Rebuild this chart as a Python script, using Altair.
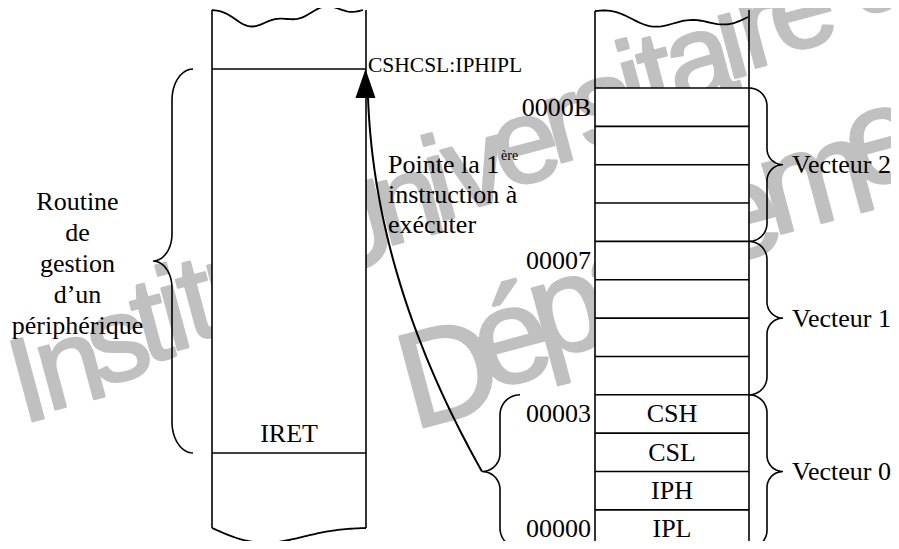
import math
import altair as alt
import pandas as pd

# ---------------- data ----------------
routine_lines = ["Routine", "de", "gestion", "d’un", "périphérique"]
routine_end = "IRET"
target_address = "CSHCSL:IPHIPL"
note_lines = ["Pointe la 1", "instruction à", "exécuter"]
note_sup = "ère"
cell_addresses = [11, 10, 9, 8, 7, 6, 5, 4, 3, 2, 1, 0]          # top to bottom
address_labels = ["0000B", "", "", "", "00007", "", "", "", "00003", "", "", "00000"]
cell_contents = ["", "", "", "", "", "", "", "", "CSH", "CSL", "IPH", "IPL"]
vector_names = ["Vecteur 2", "Vecteur 1", "Vecteur 0"]
watermark_lines = ["Institut Universitaire de", "Département"]

# ---------------- layout constants (page pixels) ----------------
X_MIN, X_MAX = 8, 891
Y_MIN, Y_MAX = 8, 541
W, H = X_MAX - X_MIN, Y_MAX - Y_MIN
LX0, LX1 = 212, 366
L_TOP, L_BOT, L_END_TOP, L_END_BOT = 69, 453, 10, 528
RX0, RX1 = 595, 749
R_TOP, R_BOTTOM = 11, 552
ROW0, ROW_H = 88, 38.35
SERIF = "Liberation Serif"
FS = 26

xs = alt.Scale(domain=[X_MIN, X_MAX], nice=False, zero=False)
ys = alt.Scale(domain=[Y_MIN, Y_MAX], nice=False, zero=False, reverse=True)


def X(f="x"):
    return alt.X(f"{f}:Q", scale=xs, axis=None)


def Y(f="y"):
    return alt.Y(f"{f}:Q", scale=ys, axis=None)


# ---------------- watermark ----------------
WID = {"I": .278, "n": .556, "s": .5, "t": .278, "i": .222, "u": .556, " ": .278,
       "U": .722, "v": .5, "e": .556, "r": .333, "a": .556, "d": .556, "T": .611,
       "c": .5, "h": .556, "o": .556, "l": .222, "g": .556, "D": .722, "é": .556,
       "p": .556, "m": .833, "f": .278, "q": .556}


def wm_chars(line, x0, y0, slope, em, size):
    rows, x = [], x0
    for ch in line:
        if ch != " " and x < X_MAX:
            rows.append({"x": x, "y": y0 + slope * (x - x0), "t": ch, "s": size})
        x += WID.get(ch, .556) * em
    return rows


wm_rows = wm_chars(watermark_lines[0], 22, 424, -0.488, 92, 120) + \
          wm_chars(watermark_lines[1], 413, 430, -0.54, 101, 136)
watermark = alt.Chart(pd.DataFrame(wm_rows)).mark_text(
    font="Liberation Sans", color="#c0c0c0", stroke="#c0c0c0", strokeWidth=2.5,
    strokeJoin="round", align="left", baseline="alphabetic", angle=345
).encode(x=X(), y=Y(), text="t:N", size=alt.Size("s:Q", scale=None))

# ---------------- white boxes ----------------
rect_rows = [{"x": LX0, "x2": LX1, "y": L_TOP, "y2": L_BOT}]
for i, _a in enumerate(cell_addresses):
    top = ROW0 + i * ROW_H
    rect_rows.append({"x": RX0, "x2": RX1, "y": top, "y2": top + ROW_H})
rects = alt.Chart(pd.DataFrame(rect_rows)).mark_rect(color="white").encode(
    x=X(), x2="x2:Q", y=Y(), y2="y2:Q")

# ---------------- straight lines ----------------
segs = [(LX0, L_END_TOP, LX0, L_END_BOT), (LX1, L_END_TOP, LX1, L_END_BOT),
        (LX0, L_TOP, LX1, L_TOP), (LX0, L_BOT, LX1, L_BOT),
        (RX0, R_TOP, RX0, R_BOTTOM), (RX1, R_TOP - 1, RX1, R_BOTTOM)]
for i in range(len(cell_addresses)):
    yy = ROW0 + i * ROW_H
    segs.append((RX0, yy, RX1, yy))
rules = alt.Chart(pd.DataFrame(segs, columns=["x", "y", "x2", "y2"])).mark_rule(
    color="black", strokeWidth=1.6).encode(x=X(), y=Y(), x2="x2:Q", y2="y2:Q")


# ---------------- wavy cut edges ----------------
def wave(gid, x0, x1, y0, fn, n=60):
    return [{"g": gid, "o": k, "x": x0 + (x1 - x0) * k / n,
             "y": y0 + fn(k / n)} for k in range(n + 1)]


wave_rows = []
wave_rows += wave("lt", LX0, LX1 - 3, L_END_TOP,
                  lambda t: 9 * math.sin(math.pi * t) + 7 * math.sin(2 * math.pi * t)
                  - 3 * math.sin(6 * math.pi * t))
wave_rows += wave("lb", LX0, LX1, L_END_BOT,
                  lambda t: 12 * math.sin(math.pi * t) + 5 * math.sin(2 * math.pi * t))
wave_rows += wave("rt", RX0, RX1 - 1, R_TOP,
                  lambda t: 10 * math.sin(math.pi * t) - 4 * math.sin(4 * math.pi * t) + 6 * t)
waves = alt.Chart(pd.DataFrame(wave_rows)).mark_line(color="black", strokeWidth=1.8).encode(
    x=X(), y=Y(), detail="g:N", order="o:Q")


# ---------------- braces ----------------
def brace(gid, xe, y0, y1, direction, d1, d2, ry, rt, n=14):
    ym = (y0 + y1) / 2
    xs_ = xe + direction * d1
    xt = xs_ + direction * d2
    pts = []
    for k in range(n + 1):
        th = math.pi / 2 * k / n
        pts.append((xe + direction * d1 * math.sin(th), y0 + ry - ry * math.cos(th)))
    for k in range(n + 1):
        th = math.pi / 2 * k / n
        pts.append((xt - direction * d2 * math.cos(th), ym - rt + rt * math.sin(th)))
    for k in range(n, -1, -1):
        th = math.pi / 2 * k / n
        pts.append((xt - direction * d2 * math.cos(th), ym + rt - rt * math.sin(th)))
    for k in range(n, -1, -1):
        th = math.pi / 2 * k / n
        pts.append((xe + direction * d1 * math.sin(th), y1 - ry + ry * math.cos(th)))
    return [{"g": gid, "o": i, "x": p[0], "y": p[1]} for i, p in enumerate(pts)]


brace_rows = brace("routine", 193, L_TOP, L_BOT, -1, 21, 19, 31, 27)
vec_mid = []
for j, name in enumerate(vector_names):
    top = ROW0 + 4 * j * ROW_H
    bot = top + 4 * ROW_H
    vec_mid.append((top + bot) / 2)
    brace_rows += brace(name, RX1, top, bot, 1, 18, 16, 18, 16)
v0_top = ROW0 + 8 * ROW_H
v0_bot = v0_top + 4 * ROW_H
brace_rows += brace("src", 520, v0_top, v0_bot, -1, 20, 18, 20, 18)
braces = alt.Chart(pd.DataFrame(brace_rows)).mark_line(color="black", strokeWidth=1.6).encode(
    x=X(), y=Y(), detail="g:N", order="o:Q")

# ---------------- arrow ----------------
P0 = (482, (v0_top + v0_bot) / 2)
P2 = (368, 97)
P1 = (374.5, 281)
arrow_rows = []
for k in range(51):
    t = k / 50
    a, b, c = (1 - t) ** 2, 2 * t * (1 - t), t ** 2
    arrow_rows.append({"o": k, "x": a * P0[0] + b * P1[0] + c * P2[0],
                       "y": a * P0[1] + b * P1[1] + c * P2[1]})
arrow = alt.Chart(pd.DataFrame(arrow_rows)).mark_line(color="black", strokeWidth=2).encode(
    x=X(), y=Y(), order="o:Q")
head = alt.Chart(pd.DataFrame([{"x": 365.5, "y": 83.5}])).mark_point(
    shape="M0,-1L0.69,1L-0.69,1Z", filled=True, color="black", size=841, opacity=1,
    strokeWidth=0).encode(x=X(), y=Y())


# ---------------- texts ----------------
def text_layer(rows, align, size=FS):
    return alt.Chart(pd.DataFrame(rows)).mark_text(
        font=SERIF, fontSize=size, color="black", align=align, baseline="alphabetic"
    ).encode(x=X(), y=Y(), text="t:N")


center_rows = [{"x": 77.5, "y": 210 + 31 * i, "t": s} for i, s in enumerate(routine_lines)]
center_rows.append({"x": 289, "y": 442, "t": routine_end})
right_rows, left_rows = [], []
for i, (lab, cont) in enumerate(zip(address_labels, cell_contents)):
    top = ROW0 + i * ROW_H
    if lab:
        right_rows.append({"x": 591, "y": top + 27.5, "t": lab})
    if cont:
        center_rows.append({"x": 672, "y": top + 27.5, "t": cont})
for i, s in enumerate(note_lines):
    left_rows.append({"x": 388, "y": 173 + 30 * i, "t": s})
for name, ym in zip(vector_names, vec_mid):
    left_rows.append({"x": 792, "y": ym + 8.5, "t": name})

texts = [
    text_layer(center_rows, "center"),
    text_layer(right_rows, "right"),
    text_layer(left_rows, "left"),
    text_layer([{"x": 368, "y": 72, "t": target_address}], "left", 21.5),
    text_layer([{"x": 501, "y": 160, "t": note_sup}], "left", 14),
]

chart = alt.layer(watermark, rects, rules, waves, braces, arrow, head, *texts).properties(
    width=W, height=H, padding=0, background="white",
    autosize=alt.AutoSizeParams(type="none"),
).configure_view(stroke=None)

chart.save("out.html", embed_options={"renderer": "svg", "actions": False})
